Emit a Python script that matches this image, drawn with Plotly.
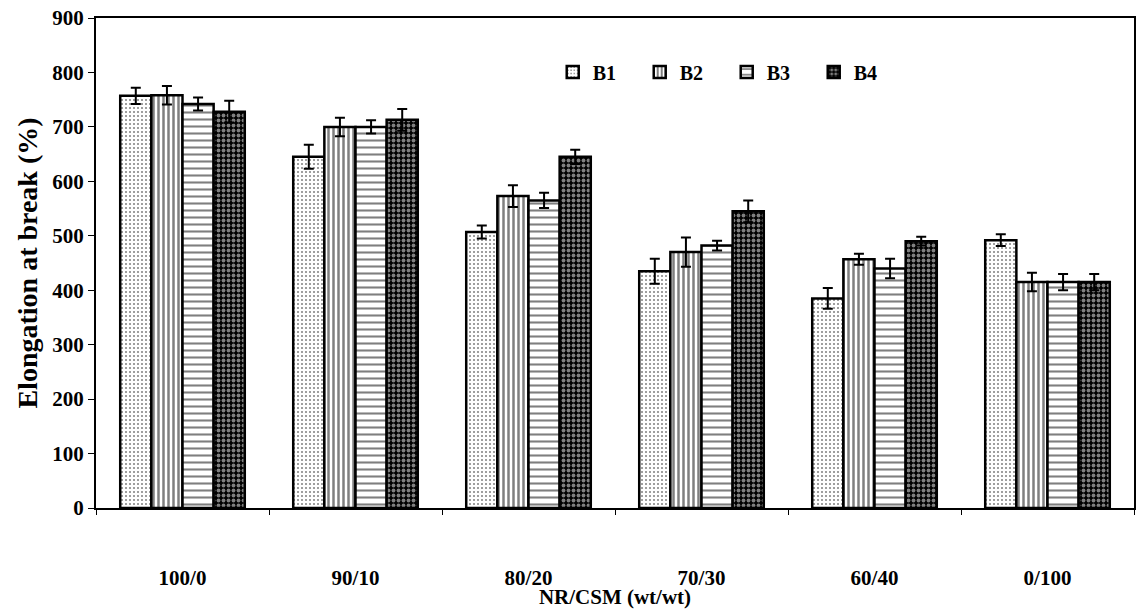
import plotly.graph_objects as go

categories = ["100/0", "90/10", "80/20", "70/30", "60/40", "0/100"]
series_names = ["B1", "B2", "B3", "B4"]
b1 = [757, 645, 507, 435, 385, 492]
b2 = [758, 700, 573, 470, 457, 415]
b3 = [742, 700, 565, 482, 440, 415]
b4 = [728, 713, 645, 545, 490, 415]
b1_err = [15, 22, 12, 23, 19, 11]
b2_err = [17, 17, 20, 27, 10, 17]
b3_err = [12, 12, 14, 9, 18, 15]
b4_err = [20, 20, 13, 20, 8, 15]

values = [b1, b2, b3, b4]
errors = [b1_err, b2_err, b3_err, b4_err]
patterns = [
    dict(shape=".", fgcolor="black", bgcolor="white", size=4, solidity=0.2),
    dict(shape="|", fgcolor="black", bgcolor="white", size=5, solidity=0.5),
    dict(shape="-", fgcolor="black", bgcolor="white", size=7, solidity=0.3),
    dict(shape=".", fgcolor="white", bgcolor="black", size=5, solidity=0.45),
]

fig = go.Figure()
for name, v, e, p in zip(series_names, values, errors, patterns):
    fig.add_trace(go.Bar(
        x=categories, y=v, name=name,
        marker=dict(color="white", line=dict(color="black", width=2.5), pattern=p),
        error_y=dict(type="data", array=e, visible=True, color="black", thickness=2, width=5),
    ))

font_family = "Liberation Serif"
fig.update_layout(
    width=1140, height=609,
    margin=dict(l=96, r=4, t=18, b=95),
    paper_bgcolor="white", plot_bgcolor="white",
    barmode="group", bargap=0.28, bargroupgap=0,
    font=dict(family=font_family, size=20, color="black"),
    legend=dict(orientation="h", x=0.44, y=0.89, xanchor="left", yanchor="middle",
                font=dict(family=font_family, size=20, color="black", weight="bold"),
                entrywidth=42, entrywidthmode="pixels", bgcolor="rgba(0,0,0,0)"),
    xaxis=dict(
        showline=True, linecolor="black", linewidth=2, mirror=True,
        ticks="outside", tickson="boundaries", ticklen=5, tickcolor="black",
        tickfont=dict(family=font_family, size=21, weight="bold"),
        ticklabelstandoff=50,
        title=dict(text="NR/CSM (wt/wt)", standoff=0,
                   font=dict(family=font_family, size=21, weight="bold")),
        showgrid=False,
    ),
    yaxis=dict(
        range=[0, 900], dtick=100,
        showline=True, linecolor="black", linewidth=2, mirror=True,
        ticks="outside", ticklen=6, tickcolor="black",
        tickfont=dict(family=font_family, size=21, weight="bold"),
        title=dict(text="Elongation at break (%)", standoff=6,
                   font=dict(family=font_family, size=28, weight="bold")),
        showgrid=False, zeroline=False,
    ),
)

fig.write_html("out.html")
